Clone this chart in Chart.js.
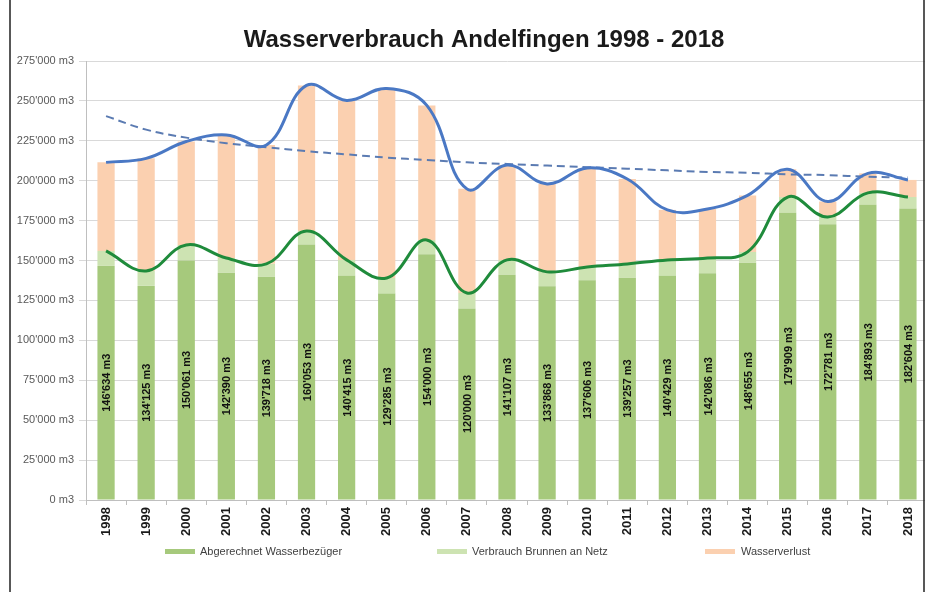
<!DOCTYPE html>
<html>
<head>
<meta charset="utf-8">
<script src="https://cdn.jsdelivr.net/npm/chart.js@4.4.1/dist/chart.umd.min.js"></script>
<style>
  html, body { margin: 0; padding: 0; background: #fff; }
  canvas { display: block; }
</style>
</head>
<body>
<canvas id="wasserChart" width="929" height="592"></canvas>
<script>
let years = [
    '1998', '1999', '2000', '2001', '2002', '2003', '2004', '2005', '2006', '2007', '2008',
    '2009', '2010', '2011', '2012', '2013', '2014', '2015', '2016', '2017', '2018'
];

// Abgerechnet Wasserbezueger (values printed in the bars)
let abgerechnet = [
    146634, 134125, 150061, 142390, 139718, 160053, 140415, 129285, 154000, 120000, 141107,
    133868, 137606, 139257, 140429, 142086, 148655, 179909, 172781, 184893, 182604
];

// Verbrauch Brunnen an Netz (estimated)
let brunnen = [
    9400, 9400, 9700, 9200, 8200, 8400, 10000, 9800, 8900, 9700, 9300,
    9000, 8400, 8600, 10000, 9500, 6700, 9900, 4500, 7500, 7200
];

// Wasserverlust (estimated)
let verlust = [
    55500, 70500, 64800, 77100, 74500, 91200, 99900, 118700, 84300, 65200, 59500,
    55100, 62000, 53200, 31300, 30700, 35400, 17400, 9700, 12200, 10700
];

// blue line: total consumption (estimated)
let gesamt = [
    211500, 214000, 224600, 228700, 222400, 259700, 250300, 257800, 247200, 194900, 209900,
    198000, 208000, 201100, 181700, 182300, 190800, 207200, 187000, 204600, 200500
];

// green line: billed + wells (estimated)
let bezug = [
    156000, 143500, 159800, 151600, 147900, 168500, 150400, 139100, 162900, 129700, 150400,
    142900, 146000, 147900, 150400, 151600, 155400, 189800, 177300, 192400, 189800
];

// dashed trend line (estimated)
let trend = [
    240500, 232000, 227000, 223500, 221000, 218500, 216500, 214500, 213000, 211500, 210500,
    209500, 208500, 207500, 206500, 205500, 205000, 204000, 203500, 202500, 202000
];

let yTicks = [0, 25000, 50000, 75000, 100000, 125000, 150000, 175000, 200000, 225000, 250000, 275000];

function fmtM3(v) {
    return String(v).replace(/\B(?=(\d{3})+(?!\d))/g, "'") + ' m3';
}

const decor = {
    id: 'decor',
    beforeDraw(chart) {
        const ctx = chart.ctx;
        ctx.save();
        ctx.fillStyle = '#ffffff';
        ctx.fillRect(0, 0, chart.width, chart.height);
        ctx.restore();
    },
    afterDatasetsDraw(chart) {
        // values inside the dark green bars
        const ctx = chart.ctx;
        const meta = chart.getDatasetMeta(0);
        ctx.save();
        ctx.font = 'bold 11px "Liberation Sans", Arial, sans-serif';
        ctx.fillStyle = '#111111';
        ctx.textAlign = 'center';
        ctx.textBaseline = 'middle';
        meta.data.forEach((bar, i) => {
            const mid = (bar.y + bar.base) / 2;
            ctx.save();
            ctx.translate(bar.x, mid);
            ctx.rotate(-Math.PI / 2);
            ctx.fillText(fmtM3(abgerechnet[i]), 0, 1);
            ctx.restore();
        });
        ctx.restore();
    },
    afterDraw(chart) {
        const ctx = chart.ctx;
        ctx.save();

        // title
        ctx.font = 'bold 24px "Liberation Sans", Arial, sans-serif';
        ctx.fillStyle = '#1a1a1a';
        ctx.textAlign = 'center';
        ctx.textBaseline = 'middle';
        ctx.fillText('Wasserverbrauch Andelfingen 1998 - 2018', 484, 40);

        // legend (bars only)
        const items = [
            { ds: 0, box: 165, text: 200 },
            { ds: 1, box: 437, text: 472 },
            { ds: 2, box: 705, text: 741 }
        ];
        ctx.font = '11px "Liberation Sans", Arial, sans-serif';
        ctx.textAlign = 'left';
        items.forEach(it => {
            const ds = chart.data.datasets[it.ds];
            ctx.fillStyle = ds.backgroundColor;
            ctx.fillRect(it.box, 549, 30, 5);
            ctx.fillStyle = '#404040';
            ctx.fillText(ds.label, it.text, 552);
        });

        // frame
        ctx.fillStyle = '#ffffff';
        ctx.fillRect(925, 0, 10, chart.height);
        ctx.strokeStyle = '#222222';
        ctx.lineWidth = 1.5;
        ctx.beginPath();
        ctx.moveTo(10, 0);
        ctx.lineTo(10, chart.height);
        ctx.moveTo(924, 0);
        ctx.lineTo(924, chart.height);
        ctx.stroke();
        ctx.restore();
    }
};

const data = {
    labels: years,
    datasets: [
        {
            type: 'bar',
            label: 'Abgerechnet Wasserbezüger',
            data: abgerechnet,
            backgroundColor: '#a6c97c',
            stack: 'bars',
            order: 2,
            barPercentage: 0.43,
            categoryPercentage: 1
        },
        {
            type: 'bar',
            label: 'Verbrauch Brunnen an Netz',
            data: brunnen,
            backgroundColor: '#cde3b2',
            stack: 'bars',
            order: 2,
            barPercentage: 0.43,
            categoryPercentage: 1
        },
        {
            type: 'bar',
            label: 'Wasserverlust',
            data: verlust,
            backgroundColor: '#fbd0b0',
            stack: 'bars',
            order: 2,
            barPercentage: 0.43,
            categoryPercentage: 1
        },
        {
            type: 'line',
            label: 'Trend',
            data: trend,
            borderColor: '#5b7bb2',
            borderWidth: 2,
            borderDash: [8, 5],
            pointRadius: 0,
            tension: 0.4,
            stack: 'trend',
            order: 1
        },
        {
            type: 'line',
            label: 'Bezug',
            data: bezug,
            borderColor: '#1f8b3b',
            borderWidth: 3,
            pointRadius: 0,
            tension: 0.4,
            stack: 'bezug',
            order: 0
        },
        {
            type: 'line',
            label: 'Gesamt',
            data: gesamt,
            borderColor: '#4a78c4',
            borderWidth: 3,
            pointRadius: 0,
            tension: 0.4,
            stack: 'gesamt',
            order: 0
        }
    ]
};

const config = {
    type: 'bar',
    data: data,
    plugins: [decor],
    options: {
        responsive: false,
        animation: false,
        devicePixelRatio: 1,
        layout: {
            padding: { left: 0, right: 1, top: 61, bottom: 0 }
        },
        plugins: {
            legend: { display: false },
            title: { display: false },
            tooltip: { enabled: false }
        },
        scales: {
            x: {
                stacked: true,
                afterFit: (scale) => { scale.height = 92; },
                grid: {
                    display: true,
                    drawOnChartArea: false,
                    offset: true,
                    tickLength: 5,
                    color: '#bfbfbf'
                },
                border: { color: '#bfbfbf' },
                ticks: {
                    minRotation: 90,
                    maxRotation: 90,
                    padding: 2,
                    color: '#1a1a1a',
                    font: { family: '"Liberation Sans", Arial, sans-serif', size: 13, weight: 'bold' }
                }
            },
            y: {
                stacked: true,
                min: 0,
                max: 275000,
                afterFit: (scale) => { scale.width = 86; },
                afterBuildTicks: (scale) => { scale.ticks = yTicks.map(v => ({ value: v })); },
                grid: {
                    color: '#d9d9d9',
                    tickLength: 7
                },
                border: { color: '#bfbfbf' },
                ticks: {
                    padding: 5,
                    color: '#595959',
                    font: { family: '"Liberation Sans", Arial, sans-serif', size: 11 },
                    callback: (v) => fmtM3(v)
                }
            }
        }
    }
};

const chart = new Chart(
    document.getElementById('wasserChart'),
    config
);
</script>
</body>
</html>
